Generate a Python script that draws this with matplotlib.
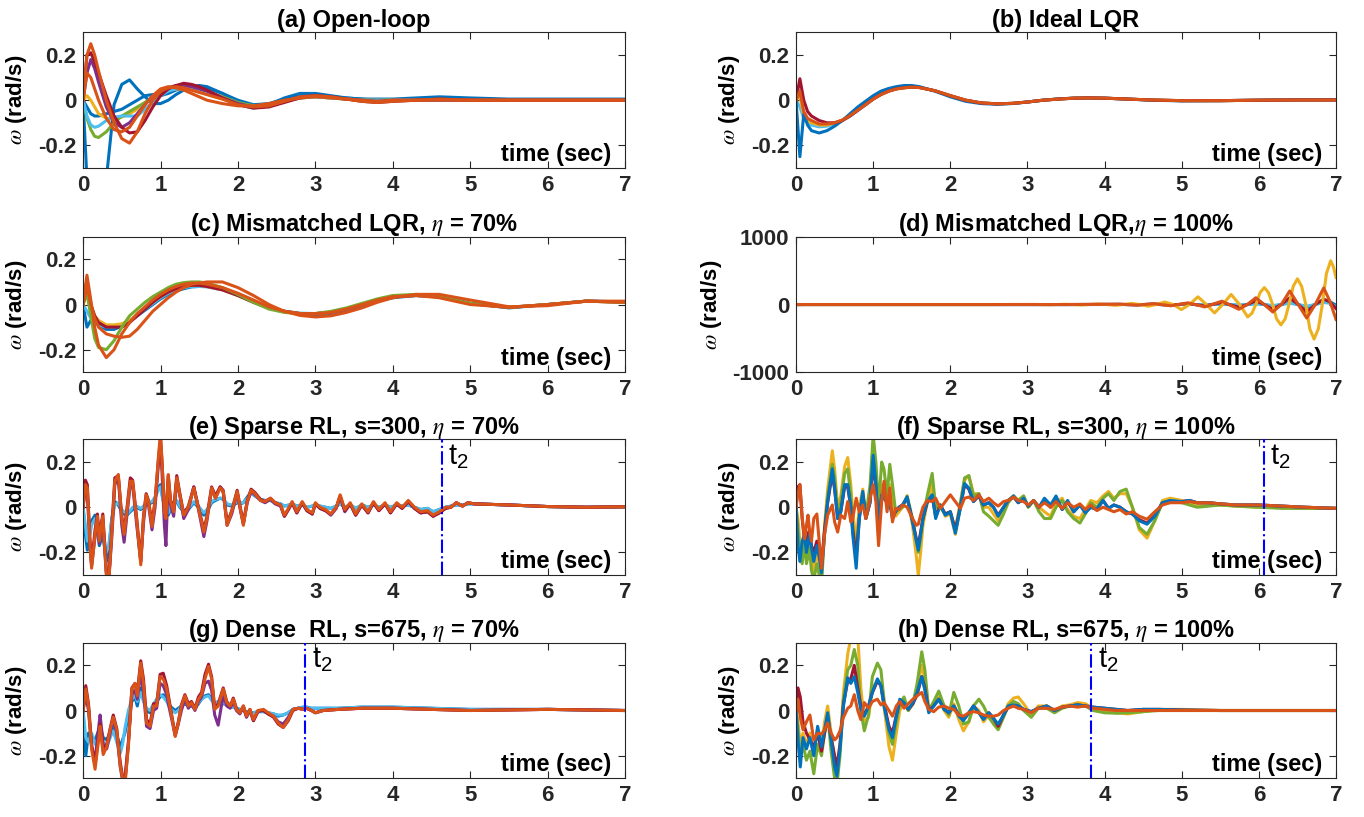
import numpy as np
import matplotlib.pyplot as plt

plt.rcParams['font.family'] = ['Liberation Sans', 'DejaVu Sans']
plt.rcParams['mathtext.fontset'] = 'stix'

# MATLAB default line colours
BLUE = '#0072BD'
ORANGE = '#D95319'
YELLOW = '#EDB120'
PURPLE = '#7E2F8E'
GREEN = '#77AC30'
LBLUE = '#4DBEEE'
DRED = '#A2142F'

# ---------------- data ----------------
# shared time samples for the smooth panels (a), (b), (c)
t_s = [0, 0.05, 0.1, 0.15, 0.2, 0.3, 0.4, 0.5, 0.6, 0.7,
       0.8, 0.9, 1.0, 1.1, 1.2, 1.3, 1.4, 1.5, 1.6, 1.8,
       2.0, 2.2, 2.4, 2.6, 2.8, 3.0, 3.2, 3.4, 3.6, 3.8,
       4.0, 4.3, 4.6, 5.0, 5.5, 6.0, 6.5, 7.0]

# (a) open loop
a_blue1 = [0, -0.35, -0.6, -0.7, -0.7, -0.35, -0.02, 0.07, 0.09, 0.05,
           0.015, -0.015, -0.015, 0.0, 0.025, 0.045, 0.06, 0.065, 0.06, 0.03,
           -0.01, -0.03, -0.02, 0.01, 0.03, 0.03, 0.02, 0.01, 0.005, 0.005,
           0.005, 0.01, 0.015, 0.01, 0.005, 0.005, 0.005, 0.005]
a_blue2 = [0, -0.03, -0.06, -0.07, -0.07, -0.06, -0.05, -0.04, -0.02, 0.0,
           0.02, 0.025, 0.02, 0.03, 0.045, 0.055, 0.06, 0.06, 0.055, 0.03,
           0.0, -0.02, -0.015, 0.005, 0.02, 0.02, 0.015, 0.01, 0.005, 0.0,
           0.0, 0.005, 0.01, 0.005, 0.0, 0.0, 0.0, 0.0]
a_orange1 = [0, 0.2, 0.25, 0.2, 0.13, 0.0, -0.1, -0.17, -0.19, -0.14,
             -0.06, 0.0, 0.04, 0.055, 0.06, 0.055, 0.045, 0.035, 0.025, 0.005,
             -0.02, -0.03, -0.025, -0.005, 0.015, 0.02, 0.015, 0.005, -0.005, -0.01,
             -0.005, 0.0, 0.005, 0.0, 0.0, 0.0, 0.0, 0.0]
a_orange2 = [0, 0.12, 0.1, 0.05, 0.0, -0.08, -0.13, -0.14, -0.12, -0.07,
             -0.02, 0.02, 0.05, 0.06, 0.055, 0.045, 0.03, 0.015, 0.0, -0.015,
             -0.025, -0.025, -0.015, 0.0, 0.01, 0.015, 0.01, 0.005, 0.0, -0.005,
             0.0, 0.0, 0.0, 0.0, 0.0, 0.0, 0.0, 0.0]
a_red = [0, 0.2, 0.21, 0.17, 0.12, 0.02, -0.07, -0.12, -0.145, -0.14,
         -0.09, -0.03, 0.02, 0.05, 0.065, 0.075, 0.07, 0.06, 0.045, 0.01,
         -0.02, -0.035, -0.03, -0.01, 0.01, 0.02, 0.015, 0.005, -0.005, -0.01,
         -0.005, 0.0, 0.005, 0.0, 0.0, 0.0, 0.0, 0.0]
a_purple = [0, 0.12, 0.18, 0.14, 0.08, -0.03, -0.1, -0.12, -0.1, -0.06,
            -0.02, 0.02, 0.04, 0.055, 0.065, 0.065, 0.06, 0.05, 0.04, 0.01,
            -0.015, -0.03, -0.025, -0.005, 0.015, 0.02, 0.015, 0.005, 0.0, -0.005,
            0.0, 0.0, 0.0, 0.0, 0.0, 0.0, 0.0, 0.0]
a_yellow = [0, 0.02, 0.0, -0.03, -0.06, -0.08, -0.085, -0.075, -0.06, -0.04,
            -0.01, 0.01, 0.03, 0.045, 0.05, 0.05, 0.045, 0.035, 0.025, 0.005,
            -0.015, -0.025, -0.02, -0.005, 0.01, 0.015, 0.01, 0.005, 0.0, 0.0,
            0.0, 0.0, 0.0, 0.0, 0.0, 0.0, 0.0, 0.0]
a_green = [0, -0.08, -0.13, -0.16, -0.165, -0.14, -0.1, -0.07, -0.05, -0.03,
           -0.01, 0.01, 0.03, 0.045, 0.055, 0.055, 0.055, 0.05, 0.04, 0.015,
           -0.01, -0.025, -0.02, -0.005, 0.01, 0.015, 0.01, 0.005, 0.0, 0.0,
           0.0, 0.0, 0.0, 0.0, 0.0, 0.0, 0.0, 0.0]
a_lblue = [0, -0.07, -0.11, -0.12, -0.115, -0.09, -0.075, -0.07, -0.07, -0.07,
           -0.04, -0.01, 0.02, 0.04, 0.05, 0.055, 0.055, 0.05, 0.04, 0.01,
           -0.02, -0.035, -0.025, -0.005, 0.01, 0.015, 0.01, 0.005, 0.0, 0.0,
           0.0, 0.0, 0.0, 0.0, 0.0, 0.0, 0.0, 0.0]

# (b) ideal LQR
b_blue = [0, -0.25, -0.06, -0.11, -0.135, -0.145, -0.135, -0.115, -0.09, -0.06,
          -0.03, -0.005, 0.02, 0.04, 0.052, 0.06, 0.065, 0.065, 0.06, 0.04,
          0.015, -0.005, -0.015, -0.018, -0.015, -0.008, 0.0, 0.006, 0.009, 0.01,
          0.009, 0.005, 0.0, -0.003, -0.002, 0.0, 0.002, 0.002]
b_red = [0, 0.095, 0.0, -0.05, -0.07, -0.09, -0.1, -0.1, -0.09, -0.07,
         -0.045, -0.02, 0.005, 0.025, 0.04, 0.05, 0.055, 0.058, 0.056, 0.042,
         0.02, 0.0, -0.012, -0.016, -0.014, -0.008, 0.0, 0.005, 0.009, 0.01,
         0.009, 0.005, 0.001, -0.002, -0.002, 0.0, 0.001, 0.001]
b_orange = [0, 0.04, -0.05, -0.08, -0.09, -0.105, -0.105, -0.1, -0.088, -0.068,
            -0.044, -0.02, 0.005, 0.025, 0.04, 0.05, 0.055, 0.058, 0.056, 0.042,
            0.02, 0.0, -0.012, -0.016, -0.014, -0.008, 0.0, 0.005, 0.009, 0.01,
            0.009, 0.005, 0.001, -0.002, -0.002, 0.0, 0.001, 0.001]
b_yellow = [0, 0.02, -0.07, -0.09, -0.1, -0.11, -0.11, -0.1, -0.088, -0.068,
            -0.044, -0.02, 0.005, 0.025, 0.04, 0.05, 0.055, 0.058, 0.056, 0.042,
            0.02, 0.0, -0.012, -0.016, -0.014, -0.008, 0.0, 0.005, 0.009, 0.01,
            0.009, 0.005, 0.001, -0.002, -0.002, 0.0, 0.001, 0.001]
b_lblue = [0, -0.03, -0.08, -0.1, -0.11, -0.118, -0.115, -0.104, -0.09, -0.07,
           -0.046, -0.02, 0.005, 0.027, 0.042, 0.052, 0.057, 0.06, 0.057, 0.042,
           0.02, 0.0, -0.012, -0.016, -0.014, -0.008, 0.0, 0.005, 0.009, 0.01,
           0.009, 0.005, 0.001, -0.002, -0.002, 0.0, 0.001, 0.001]

# (c) mismatched LQR, eta = 70%
c_orange1 = [0, 0.13, 0.02, -0.1, -0.18, -0.235, -0.2, -0.13, -0.08, -0.04,
             -0.01, 0.02, 0.045, 0.065, 0.08, 0.09, 0.095, 0.095, 0.09, 0.075,
             0.05, 0.02, -0.01, -0.03, -0.04, -0.04, -0.035, -0.02, 0.0, 0.02,
             0.035, 0.04, 0.03, 0.0, -0.012, 0.0, 0.015, 0.01]
c_orange2 = [0, 0.08, 0.0, -0.06, -0.1, -0.13, -0.14, -0.145, -0.14, -0.11,
             -0.07, -0.03, 0.0, 0.03, 0.055, 0.075, 0.09, 0.095, 0.1, 0.1,
             0.075, 0.04, 0.0, -0.03, -0.048, -0.055, -0.05, -0.035, -0.015, 0.01,
             0.03, 0.045, 0.045, 0.02, -0.01, -0.005, 0.015, 0.015]
c_green = [0, 0.05, -0.05, -0.15, -0.19, -0.2, -0.16, -0.1, -0.05, -0.02,
           0.01, 0.035, 0.055, 0.075, 0.09, 0.097, 0.1, 0.1, 0.095, 0.075,
           0.045, 0.01, -0.02, -0.035, -0.04, -0.04, -0.03, -0.015, 0.005, 0.025,
           0.04, 0.045, 0.035, 0.005, -0.012, 0.0, 0.015, 0.01]
c_red = [0, 0.11, 0.0, -0.05, -0.08, -0.1, -0.1, -0.1, -0.08, -0.05,
         -0.02, 0.01, 0.035, 0.055, 0.07, 0.08, 0.085, 0.085, 0.08, 0.065,
         0.04, 0.01, -0.015, -0.03, -0.04, -0.04, -0.035, -0.02, 0.0, 0.02,
         0.035, 0.04, 0.035, 0.005, -0.013, 0.0, 0.015, 0.01]
c_blue = [0, -0.1, -0.07, -0.08, -0.09, -0.11, -0.11, -0.095, -0.075, -0.05,
          -0.025, 0.0, 0.025, 0.045, 0.06, 0.07, 0.078, 0.08, 0.08, 0.07,
          0.045, 0.015, -0.015, -0.03, -0.04, -0.045, -0.04, -0.025, -0.005, 0.015,
          0.03, 0.04, 0.035, 0.005, -0.015, 0.0, 0.015, 0.012]
c_lblue = [0, -0.03, -0.06, -0.08, -0.09, -0.1, -0.1, -0.09, -0.07, -0.045,
           -0.02, 0.005, 0.03, 0.05, 0.065, 0.075, 0.08, 0.08, 0.078, 0.065,
           0.04, 0.01, -0.015, -0.03, -0.038, -0.04, -0.035, -0.02, 0.0, 0.02,
           0.035, 0.04, 0.035, 0.005, -0.013, 0.0, 0.015, 0.012]
c_yellow = [0, 0.06, 0.0, -0.05, -0.07, -0.09, -0.09, -0.085, -0.07, -0.045,
            -0.015, 0.01, 0.035, 0.055, 0.07, 0.08, 0.085, 0.085, 0.08, 0.065,
            0.04, 0.01, -0.015, -0.03, -0.04, -0.04, -0.035, -0.02, 0.0, 0.02,
            0.035, 0.04, 0.035, 0.005, -0.013, 0.0, 0.015, 0.01]

# (d) mismatched LQR, eta = 100% (unstable)
d_t_yellow = [0, 2.5, 3.06,
              3.275, 3.38, 3.49, 3.6, 3.705, 3.81, 3.92, 4.03, 4.135, 4.24,
              4.35, 4.46, 4.565, 4.67, 4.78, 4.89, 4.995, 5.1, 5.21, 5.32,
              5.425, 5.53, 5.64, 5.75, 5.855,
              5.91, 5.96, 6.016, 6.07, 6.124, 6.178, 6.23, 6.285, 6.34, 6.39,
              6.445, 6.5, 6.554, 6.608, 6.66, 6.715, 6.77, 6.822, 6.875, 6.93,
              6.965, 7.0]
d_yellow = [0, 0, 2,
            -3, 0, 4, 0, -6, 0, 8, 0, -12, 0,
            16, 0, -25, 0, 38, 0, -74, 0, 114, 0,
            -124, 0, 149, 0, -183,
            -128, 0, 177, 250, 177, 0, -212, -300, -212, 0,
            269, 380, 269, 0, -360, -510, -360, 0, 456, 645,
            560, 400]
d_t_other = [0, 3.5, 4.2, 4.42, 4.64, 4.86, 5.08, 5.3, 5.52, 5.74, 5.85,
             5.96, 6.07, 6.18, 6.29, 6.4, 6.51, 6.62, 6.73, 6.84, 6.92, 7.0]
d_orange = [0, 0, 5, -8, 12, -18, 25, -35, 50, -70, 0,
            100, 0, -110, 0, 200, 0, -200, 0, 245, 50, -220]
d_red = [0, 0, 3, -5, 8, -12, 16, -22, 30, -40, 0,
         55, 0, -70, 0, 100, 0, -110, 0, 80, 40, -60]
d_blue = [0, 0, 1, -2, 3, -4, 5, -7, 10, -14, 0,
          18, 0, -25, 0, 30, 0, -40, 0, 55, 40, -10]
d_lblue = [0, 0, 1, -1, 2, -3, 3, -5, 6, -8, 0,
           10, 0, -15, 0, 18, 0, -25, 0, 30, 20, -30]

# (e) sparse RL, s=300, eta = 70%
e_t = [0, 0.03, 0.055, 0.09, 0.11, 0.155, 0.185, 0.21, 0.255, 0.3,
       0.33, 0.37, 0.41, 0.455, 0.5, 0.53, 0.565, 0.61, 0.64, 0.69,
       0.745, 0.78, 0.815, 0.845, 0.89, 0.93, 0.975, 1.0, 1.02, 1.05,
       1.07, 1.1, 1.13, 1.17, 1.21, 1.25, 1.3, 1.36, 1.43, 1.49,
       1.56, 1.6, 1.66, 1.71, 1.77, 1.81, 1.86, 1.92, 1.99, 2.03,
       2.07, 2.12, 2.17, 2.22, 2.29, 2.35, 2.42, 2.48, 2.55, 2.6,
       2.66, 2.7, 2.76, 2.83, 2.89, 2.96, 3.0, 3.06, 3.13, 3.2,
       3.27, 3.32, 3.38, 3.45, 3.52, 3.6, 3.68, 3.75, 3.82, 3.9,
       3.97, 4.05, 4.12, 4.2, 4.28, 4.36, 4.45, 4.52, 4.6, 4.68,
       4.75, 4.82, 4.9, 4.97, 5.05, 5.5, 6.0, 6.5, 7.0]
e_orange = [0, 0.1, 0.085, -0.17, -0.27, -0.12, -0.04, -0.15, -0.04, -0.3,
            -0.34, -0.12, 0.115, 0.145, -0.05, -0.12, -0.02, 0.115, 0.115, -0.05,
            -0.255, -0.05, 0.055, 0.025, -0.085, 0.025, 0.23, 0.33, 0.2, -0.02,
            -0.05, 0.145, 0.025, -0.02, 0.13, 0.055, -0.035, 0.0, 0.085, -0.005,
            -0.11, -0.05, 0.085, 0.04, 0.085, 0.07, -0.08, -0.02, 0.07, -0.005,
            -0.08, 0.025, 0.075, 0.06, 0.03, 0.025, 0.04, 0.02, 0.01, -0.035,
            0.0, 0.025, -0.02, 0.025, -0.01, -0.025, 0.02, 0.0, -0.01, -0.03,
            0.0, 0.055, -0.01, 0.02, -0.03, 0.015, -0.02, 0.025, -0.01, 0.02,
            -0.02, 0.02, 0.0, 0.03, 0.0, -0.02, -0.015, -0.035, -0.02, 0.0,
            0.0, 0.02, 0.005, 0.02, 0.015, 0.01, 0.003, 0.0, 0.002]
e_red = [0, 0.12, 0.1, -0.15, -0.25, -0.1, -0.03, -0.13, -0.03, -0.28,
         -0.33, -0.1, 0.13, 0.14, -0.04, -0.11, -0.01, 0.13, 0.12, -0.04,
         -0.24, -0.04, 0.06, 0.03, -0.07, 0.03, 0.22, 0.3, 0.2, -0.01,
         -0.04, 0.14, 0.03, -0.01, 0.14, 0.06, -0.03, 0.005, 0.09, 0.0,
         -0.1, -0.04, 0.09, 0.05, 0.09, 0.075, -0.07, -0.015, 0.075, 0.0,
         -0.07, 0.03, 0.08, 0.065, 0.035, 0.025, 0.04, 0.02, 0.01, -0.04,
         -0.005, 0.02, -0.025, 0.02, -0.015, -0.03, 0.015, -0.005, -0.015, -0.03,
         0.0, 0.05, -0.015, 0.015, -0.035, 0.01, -0.025, 0.02, -0.015, 0.015,
         -0.025, 0.015, -0.005, 0.025, -0.005, -0.025, -0.02, -0.04, -0.025, -0.005,
         0.0, 0.02, 0.005, 0.02, 0.015, 0.01, 0.003, 0.0, 0.002]
e_purple = [0, 0.08, 0.06, -0.18, -0.26, -0.13, -0.05, -0.16, -0.06, -0.29,
            -0.33, -0.14, 0.1, 0.13, -0.08, -0.155, -0.04, 0.1, 0.1, -0.07,
            -0.24, -0.07, 0.04, 0.01, -0.1, 0.0, 0.2, 0.28, 0.15, -0.08,
            -0.17, 0.12, 0.01, -0.04, 0.12, 0.05, -0.05, -0.01, 0.09, -0.01,
            -0.13, -0.06, 0.08, 0.04, 0.09, 0.065, -0.08, -0.03, 0.065, -0.01,
            -0.075, 0.02, 0.07, 0.055, 0.03, 0.02, 0.035, 0.015, 0.005, -0.04,
            -0.005, 0.02, -0.025, 0.02, -0.015, -0.03, 0.015, -0.005, -0.015, -0.035,
            -0.005, 0.05, -0.02, 0.015, -0.035, 0.01, -0.025, 0.02, -0.015, 0.015,
            -0.025, 0.015, -0.005, 0.025, -0.005, -0.025, -0.02, -0.04, -0.025, -0.005,
            0.0, 0.02, 0.005, 0.02, 0.015, 0.01, 0.003, 0.0, 0.002]
e_blue = [0, -0.12, -0.19, -0.1, -0.06, -0.035, -0.1, -0.17, -0.12, -0.24,
          -0.2, -0.05, 0.025, 0.01, -0.02, -0.03, -0.035, -0.02, -0.01, 0.0,
          -0.01, 0.0, 0.01, 0.015, 0.02, 0.04, 0.09, 0.1, 0.06, 0.0,
          -0.03, -0.035, -0.01, 0.02, 0.025, 0.0, -0.02, -0.01, 0.02, 0.0,
          -0.035, -0.02, 0.02, 0.03, 0.04, 0.035, 0.01, 0.005, 0.02, 0.015,
          0.02, 0.045, 0.065, 0.05, 0.035, 0.03, 0.03, 0.02, 0.015, 0.005,
          0.01, 0.015, 0.005, 0.01, 0.0, 0.005, 0.01, 0.005, 0.0, -0.005,
          0.005, 0.015, 0.0, 0.01, -0.005, 0.01, 0.0, 0.01, 0.0, 0.01,
          0.0, 0.01, 0.005, 0.01, 0.0, -0.01, -0.005, -0.02, -0.01, 0.0,
          0.005, 0.01, 0.01, 0.015, 0.015, 0.01, 0.003, 0.0, 0.002]
e_lblue = [0, -0.08, -0.15, -0.12, -0.08, -0.05, -0.08, -0.14, -0.1, -0.2,
           -0.17, -0.06, 0.01, 0.02, -0.01, -0.02, -0.03, -0.015, 0.0, 0.005,
           -0.005, 0.005, 0.015, 0.02, 0.025, 0.045, 0.08, 0.09, 0.05, 0.01,
           -0.02, -0.025, 0.0, 0.025, 0.03, 0.005, -0.015, -0.005, 0.025, 0.005,
           -0.025, -0.01, 0.025, 0.035, 0.04, 0.04, 0.015, 0.01, 0.025, 0.02,
           0.02, 0.04, 0.06, 0.05, 0.035, 0.03, 0.03, 0.02, 0.015, 0.005,
           0.01, 0.015, 0.005, 0.01, 0.0, 0.005, 0.01, 0.005, 0.0, -0.005,
           0.005, 0.015, 0.0, 0.01, -0.005, 0.01, 0.0, 0.01, 0.0, 0.01,
           0.0, 0.01, 0.005, 0.01, 0.0, -0.01, -0.005, -0.02, -0.01, 0.0,
           0.005, 0.01, 0.01, 0.015, 0.015, 0.01, 0.003, 0.0, 0.002]

# (f) sparse RL, s=300, eta = 100%
f_t = [0, 0.025, 0.05, 0.08, 0.11, 0.135, 0.155, 0.175, 0.2, 0.23,
       0.27, 0.3, 0.33, 0.37, 0.41, 0.47, 0.5, 0.54, 0.58, 0.63,
       0.67, 0.71, 0.735, 0.78, 0.82, 0.865, 0.905, 0.96, 1.0, 1.035,
       1.07, 1.11, 1.14, 1.18, 1.215, 1.25, 1.29, 1.335, 1.38, 1.44,
       1.51, 1.56, 1.585, 1.615, 1.645, 1.7, 1.765, 1.81, 1.87, 1.935,
       2.0, 2.065, 2.13, 2.185, 2.24, 2.3, 2.37, 2.43, 2.5, 2.56,
       2.62, 2.69, 2.75, 2.82, 2.88, 2.95, 3.01, 3.08, 3.15, 3.22,
       3.3, 3.37, 3.45, 3.52, 3.6, 3.68, 3.75, 3.82, 3.9, 3.98,
       4.05, 4.12, 4.2, 4.28, 4.36, 4.45, 4.55, 4.65, 4.75, 4.85,
       5.0, 5.1, 5.2, 5.35, 5.5, 5.7, 6.0, 6.3, 6.6, 7.0]
f_orange = [0, 0.06, 0.1, -0.05, -0.14, -0.08, -0.035, -0.1, -0.15, -0.05,
            -0.03, -0.15, -0.27, -0.12, -0.035, 0.01, -0.065, -0.11, -0.035, -0.05,
            0.025, -0.065, -0.05, 0.04, -0.02, 0.01, -0.05, 0.04, 0.1, 0.025,
            -0.17, 0.025, 0.115, -0.02, 0.085, -0.065, -0.005, -0.01, 0.01, 0.0,
            -0.05, -0.08, -0.075, -0.035, 0.0, 0.03, 0.025, 0.04, -0.005, 0.025,
            0.055, 0.025, -0.005, 0.04, 0.045, 0.03, 0.055, 0.025, 0.04, 0.02,
            0.005, 0.025, 0.03, 0.045, 0.03, 0.025, 0.01, 0.03, 0.0, 0.02,
            0.0, 0.025, -0.005, 0.02, 0.0, 0.015, -0.01, 0.01, -0.015, 0.0,
            -0.01, -0.02, -0.01, -0.03, -0.02, -0.04, -0.053, -0.02, 0.01, 0.02,
            0.02, 0.025, 0.02, 0.02, 0.015, 0.01, 0.01, 0.005, 0.0, -0.005]
f_blue = [0, -0.17, -0.24, -0.15, -0.12, -0.2, -0.16, -0.12, -0.18, -0.24,
          -0.17, -0.22, -0.29, -0.12, 0.025, 0.17, 0.085, -0.05, -0.02, 0.1,
          0.1, 0.0, -0.12, -0.27, -0.05, 0.07, -0.05, 0.025, 0.23, 0.1,
          -0.095, 0.055, 0.04, 0.025, 0.025, -0.05, -0.02, 0.0, 0.01, 0.045,
          -0.065, -0.15, -0.19, -0.12, -0.05, 0.025, 0.055, -0.05, 0.01, -0.035,
          -0.02, -0.115, -0.005, 0.105, 0.085, 0.025, 0.055, 0.01, 0.02, 0.0,
          -0.04, 0.0, 0.03, 0.05, 0.02, 0.04, 0.005, 0.03, 0.0, 0.04,
          0.01, 0.05, -0.01, 0.03, -0.02, 0.01, -0.025, 0.0, -0.01, 0.03,
          -0.005, 0.01, 0.0, -0.02, -0.03, -0.06, -0.075, -0.04, 0.02, 0.03,
          0.025, 0.03, 0.02, 0.02, 0.015, 0.01, 0.01, 0.005, 0.0, -0.005]
f_green = [0, -0.1, -0.2, -0.25, -0.15, -0.25, -0.22, -0.18, -0.28, -0.32,
           -0.25, -0.3, -0.35, -0.1, 0.05, 0.19, 0.13, -0.03, 0.02, 0.15,
           0.17, 0.05, -0.08, -0.2, -0.03, 0.05, -0.04, 0.1, 0.32, 0.2,
           0.0, 0.2, 0.17, 0.05, 0.19, 0.1, -0.02, -0.01, 0.0, 0.05,
           -0.05, -0.15, -0.2, -0.14, -0.05, 0.05, 0.15, 0.0, 0.0, -0.03,
           -0.02, -0.1, 0.02, 0.13, 0.14, 0.05, 0.06, -0.02, -0.04, -0.06,
           -0.08, -0.03, 0.02, 0.05, 0.03, 0.05, 0.0, 0.03, -0.02, -0.05,
           -0.05, 0.0, 0.03, -0.02, -0.05, -0.07, -0.03, 0.02, 0.0, 0.04,
           0.06, 0.03, 0.07, 0.08, 0.0, -0.09, -0.12, -0.06, 0.02, 0.03,
           0.02, 0.01, 0.0, 0.005, 0.01, 0.005, 0.0, -0.005, -0.005, -0.005]
f_yellow = [0, -0.05, -0.15, -0.2, -0.13, -0.2, -0.17, -0.15, -0.22, -0.28,
            -0.2, -0.25, -0.3, -0.08, 0.08, 0.25, 0.17, 0.0, 0.05, 0.18,
            0.22, 0.1, -0.02, -0.15, 0.0, 0.08, -0.03, 0.05, 0.25, 0.12,
            -0.05, 0.1, 0.08, 0.0, 0.1, 0.05, -0.04, -0.02, 0.0, 0.05,
            -0.08, -0.22, -0.3, -0.2, -0.08, 0.02, 0.1, -0.03, 0.01, -0.04,
            -0.03, -0.12, 0.0, 0.12, 0.14, 0.06, 0.06, 0.0, 0.0, -0.03,
            -0.06, -0.01, 0.03, 0.05, 0.03, 0.05, 0.0, 0.03, 0.0, -0.02,
            -0.04, 0.02, 0.04, -0.01, -0.04, -0.05, -0.01, 0.03, 0.02, 0.05,
            0.07, 0.04, 0.06, 0.06, 0.0, -0.1, -0.137, -0.06, 0.03, 0.04,
            0.03, 0.02, 0.01, 0.01, 0.01, 0.005, 0.0, 0.0, -0.005, -0.005]
f_red = [0, 0.09, 0.1, -0.05, -0.15, -0.17, -0.12, -0.1, -0.17, -0.2,
         -0.15, -0.18, -0.25, -0.1, 0.02, 0.15, 0.08, -0.05, -0.02, 0.09,
         0.09, 0.0, -0.1, -0.22, -0.05, 0.06, -0.05, 0.02, 0.2, 0.09,
         -0.09, 0.05, 0.04, 0.02, 0.02, -0.045, -0.02, 0.0, 0.01, 0.04,
         -0.06, -0.14, -0.17, -0.11, -0.05, 0.02, 0.05, -0.04, 0.01, -0.03,
         -0.02, -0.1, 0.0, 0.1, 0.08, 0.025, 0.05, 0.01, 0.02, 0.0,
         -0.035, 0.0, 0.03, 0.045, 0.02, 0.035, 0.005, 0.03, 0.0, 0.03,
         0.0, 0.04, -0.01, 0.025, -0.02, 0.01, -0.02, 0.0, -0.01, 0.03,
         -0.005, 0.01, 0.0, -0.02, -0.03, -0.055, -0.07, -0.035, 0.02, 0.025,
         0.025, 0.03, 0.02, 0.02, 0.015, 0.01, 0.01, 0.005, 0.0, -0.005]

# (g) dense RL, s=675, eta = 70%
g_t = [0, 0.035, 0.07, 0.11, 0.155, 0.2, 0.22, 0.26, 0.305, 0.35,
       0.39, 0.435, 0.48, 0.51, 0.54, 0.585, 0.63, 0.67, 0.7, 0.745,
       0.78, 0.82, 0.865, 0.91, 0.95, 0.995, 1.035, 1.08, 1.12, 1.19,
       1.23, 1.27, 1.315, 1.36, 1.4, 1.445, 1.49, 1.53, 1.575, 1.62,
       1.66, 1.7, 1.745, 1.81, 1.855, 1.9, 1.94, 1.98, 2.025, 2.07,
       2.11, 2.155, 2.2, 2.26, 2.33, 2.39, 2.46, 2.52, 2.585, 2.65,
       2.71, 2.78, 2.84, 2.885, 2.95, 3.0, 3.1, 3.3, 3.6, 4.0,
       4.5, 5.0, 6.0, 7.0]
g_orange = [0, 0.095, 0.02, -0.17, -0.26, -0.13, -0.07, -0.195, -0.16, -0.085,
            -0.03, -0.085, -0.245, -0.3, -0.33, -0.16, 0.095, 0.12, 0.065, 0.21,
            0.12, -0.055, -0.07, 0.02, 0.02, 0.15, 0.14, 0.095, 0.02, -0.115,
            -0.055, 0.02, 0.065, 0.02, 0.035, 0.005, 0.05, 0.07, 0.14, 0.195,
            0.14, 0.005, 0.02, 0.095, 0.035, 0.02, 0.05, 0.005, -0.01, 0.02,
            -0.025, 0.005, -0.04, 0.0, 0.005, -0.01, -0.025, -0.055, -0.075, -0.04,
            0.005, 0.01, 0.005, 0.01, 0.0, -0.01, 0.0, 0.005, 0.01, 0.01,
            0.005, 0.0, 0.005, 0.0]
g_red = [0, 0.11, 0.03, -0.15, -0.24, -0.12, -0.06, -0.18, -0.15, -0.08,
         -0.02, -0.08, -0.23, -0.29, -0.32, -0.15, 0.1, 0.12, 0.08, 0.22,
         0.14, -0.04, -0.06, 0.03, 0.03, 0.16, 0.165, 0.11, 0.03, -0.11,
         -0.05, 0.025, 0.07, 0.03, 0.04, 0.01, 0.06, 0.08, 0.16, 0.205,
         0.15, 0.01, 0.03, 0.1, 0.04, 0.02, 0.055, 0.01, -0.01, 0.02,
         -0.025, 0.005, -0.045, 0.0, 0.0, -0.015, -0.03, -0.06, -0.075, -0.045,
         0.0, 0.01, 0.005, 0.01, 0.0, -0.01, 0.0, 0.005, 0.01, 0.01,
         0.005, 0.0, 0.005, 0.0]
g_purple = [0, 0.07, 0.0, -0.16, -0.22, -0.08, -0.02, -0.15, -0.17, -0.1,
            -0.03, -0.1, -0.25, -0.31, -0.3, -0.14, 0.07, 0.09, 0.05, 0.17,
            0.08, -0.07, -0.08, 0.0, 0.01, 0.12, 0.11, 0.07, 0.0, -0.11,
            -0.06, 0.0, 0.05, 0.01, 0.03, 0.0, 0.04, 0.06, 0.12, 0.13,
            0.09, -0.02, -0.065, 0.07, 0.02, 0.01, 0.04, 0.0, -0.015, 0.015,
            -0.03, 0.0, -0.045, -0.005, 0.0, -0.015, -0.025, -0.05, -0.06, -0.03,
            0.005, 0.01, 0.005, 0.01, 0.0, -0.01, 0.0, 0.005, 0.01, 0.01,
            0.005, 0.0, 0.005, 0.0]
g_blue = [0, -0.2, -0.1, -0.12, -0.13, -0.09, -0.07, -0.12, -0.13, -0.1,
          -0.07, -0.11, -0.16, -0.13, -0.1, -0.02, 0.04, 0.06, 0.02, 0.1,
          0.05, 0.0, -0.01, 0.02, 0.04, 0.06, 0.07, 0.05, 0.02, 0.0,
          0.01, 0.02, 0.03, 0.02, 0.02, 0.01, 0.03, 0.05, 0.065, 0.07,
          0.05, 0.03, 0.04, 0.03, 0.025, 0.02, 0.015, 0.01, 0.005, 0.0,
          -0.005, -0.01, -0.01, -0.005, -0.005, -0.01, -0.015, -0.025, -0.02, -0.01,
          0.005, 0.01, 0.015, 0.015, 0.01, 0.01, 0.01, 0.01, 0.015, 0.015,
          0.01, 0.005, 0.005, 0.0]
g_lblue = [0, -0.12, -0.14, -0.1, -0.15, -0.12, -0.09, -0.14, -0.16, -0.12,
           -0.09, -0.14, -0.19, -0.15, -0.08, 0.0, 0.05, 0.07, 0.04, 0.08,
           0.04, 0.01, 0.0, 0.03, 0.05, 0.07, 0.06, 0.04, 0.01, -0.01,
           0.0, 0.02, 0.035, 0.025, 0.025, 0.015, 0.035, 0.05, 0.06, 0.065,
           0.045, 0.03, 0.04, 0.035, 0.025, 0.02, 0.015, 0.01, 0.005, 0.0,
           -0.005, -0.01, -0.01, -0.005, -0.005, -0.01, -0.015, -0.02, -0.02, -0.01,
           0.005, 0.01, 0.015, 0.015, 0.01, 0.01, 0.01, 0.01, 0.015, 0.015,
           0.01, 0.005, 0.005, 0.0]

# (h) dense RL, s=675, eta = 100%
h_t = [0, 0.025, 0.055, 0.09, 0.135, 0.18, 0.23, 0.28, 0.33, 0.37,
       0.41, 0.455, 0.5, 0.53, 0.57, 0.615, 0.67, 0.71, 0.755, 0.8,
       0.84, 0.885, 0.94, 0.99, 1.055, 1.1, 1.14, 1.205, 1.25, 1.3,
       1.345, 1.4, 1.455, 1.515, 1.57, 1.63, 1.67, 1.72, 1.785, 1.85,
       1.92, 1.98, 2.045, 2.11, 2.17, 2.24, 2.3, 2.37, 2.43, 2.5,
       2.56, 2.62, 2.69, 2.75, 2.82, 2.88, 2.95, 3.05, 3.14, 3.25,
       3.35, 3.45, 3.55, 3.65, 3.75, 3.85, 4.0, 4.15, 4.3, 4.5,
       4.7, 5.0, 5.5, 6.0, 7.0]
h_orange = [0, 0.05, -0.03, -0.085, -0.05, -0.02, -0.13, -0.1, -0.105, -0.085,
            -0.055, -0.1, -0.13, -0.12, -0.09, -0.03, 0.01, 0.02, 0.07, 0.0,
            -0.04, 0.035, 0.01, 0.04, 0.05, 0.025, 0.035, 0.0, -0.025, 0.02,
            0.04, 0.01, 0.03, 0.05, 0.065, 0.08, 0.04, 0.005, -0.005, 0.015,
            0.02, 0.01, 0.005, -0.02, -0.025, -0.01, -0.005, -0.01, -0.02, -0.025,
            -0.025, -0.02, 0.0, 0.01, 0.02, 0.01, 0.005, -0.01, 0.01, 0.01,
            0.005, 0.015, 0.02, 0.015, 0.02, 0.01, 0.005, 0.0, 0.0, 0.0,
            0.0, 0.0, 0.0, 0.0, 0.0]
h_blue = [0, -0.13, -0.25, -0.12, -0.17, -0.12, -0.2, -0.07, -0.16, -0.085,
          -0.01, -0.13, -0.25, -0.29, -0.17, 0.02, 0.145, 0.12, 0.15, 0.08,
          0.005, -0.025, 0.02, 0.08, 0.14, 0.11, 0.02, -0.085, -0.12, -0.025,
          0.05, 0.035, 0.005, 0.035, 0.08, 0.15, 0.09, -0.01, 0.02, 0.05,
          0.005, -0.01, 0.02, -0.025, -0.045, -0.01, 0.02, -0.01, -0.04, -0.01,
          -0.035, -0.06, -0.02, 0.02, 0.025, 0.02, 0.005, -0.005, 0.01, 0.02,
          0.0, 0.015, 0.02, 0.025, 0.02, 0.015, 0.01, 0.005, 0.0, 0.005,
          0.005, 0.002, 0.0, 0.0, 0.0]
h_green = [0, -0.08, -0.2, -0.15, -0.22, -0.18, -0.28, -0.15, -0.2, -0.1,
           -0.02, -0.18, -0.3, -0.33, -0.2, 0.05, 0.18, 0.2, 0.27, 0.2,
           0.0, -0.09, -0.02, 0.15, 0.21, 0.18, 0.05, -0.1, -0.15, -0.05,
           0.03, 0.06, 0.0, 0.03, 0.12, 0.26, 0.18, 0.0, 0.04, 0.086,
           0.02, -0.02, 0.08, 0.02, -0.06, -0.05, 0.02, 0.05, 0.02, -0.03,
           -0.06, -0.085, -0.03, 0.02, 0.04, 0.03, 0.0, -0.03, 0.01, 0.01,
           -0.01, 0.01, 0.02, 0.025, 0.02, 0.0, -0.01, -0.012, -0.01, -0.005,
           0.0, 0.0, 0.0, 0.0, 0.0]
h_yellow = [0, -0.05, -0.15, -0.1, -0.15, -0.1, -0.2, -0.08, -0.15, -0.05,
            0.02, -0.1, -0.22, -0.26, -0.15, 0.08, 0.25, 0.32, 0.3, 0.33,
            0.1, -0.05, -0.03, 0.1, 0.13, 0.12, 0.02, -0.16, -0.22, -0.1,
            0.0, 0.04, 0.0, 0.03, 0.1, 0.2, 0.14, 0.0, 0.03, 0.06,
            0.0, -0.03, 0.03, -0.04, -0.09, -0.05, 0.02, 0.0, -0.05, -0.02,
            -0.05, -0.08, -0.02, 0.03, 0.055, 0.06, 0.03, -0.02, 0.02, 0.02,
            0.0, 0.02, 0.025, 0.035, 0.03, 0.01, 0.0, -0.01, -0.015, -0.005,
            0.005, 0.005, 0.0, 0.0, 0.0]
h_red = [0, 0.1, 0.06, -0.05, -0.1, -0.13, -0.16, -0.1, -0.18, -0.1,
         -0.03, -0.12, -0.2, -0.25, -0.15, 0.03, 0.13, 0.14, 0.2, 0.1,
         0.02, -0.02, 0.02, 0.08, 0.13, 0.11, 0.03, -0.07, -0.1, -0.02,
         0.04, 0.03, 0.005, 0.03, 0.07, 0.15, 0.1, 0.0, 0.02, 0.05,
         0.005, -0.01, 0.02, -0.02, -0.04, -0.01, 0.02, -0.01, -0.035, -0.01,
         -0.035, -0.07, -0.02, 0.015, 0.02, 0.02, 0.005, -0.005, 0.01, 0.02,
         0.0, 0.015, 0.02, 0.025, 0.02, 0.015, 0.01, 0.005, 0.0, 0.005,
         0.005, 0.002, 0.0, 0.0, 0.0]

# switching instants t2 of the RL controllers
t2_e = 4.63
t2_f = 6.06
t2_g = 2.87
t2_h = 3.83

# ---------------- figure ----------------
fig = plt.figure(figsize=(13.64, 8.17), dpi=100)
lefts = [0.0609, 0.5836]
widths = [0.3974, 0.3959]
bottoms = [0.7944, 0.5443, 0.2962, 0.0474]
height = 0.1659
LW = 2.2


def make_ax(row, col, title, lim=0.3, yticks=(-0.2, 0, 0.2),
            ylabels=('-0.2', '0', '0.2')):
    ax = fig.add_axes([lefts[col], bottoms[row], widths[col], height])
    ax.set_xlim(0, 7)
    ax.set_ylim(-lim, lim)
    ax.set_xticks(range(8))
    ax.set_yticks(yticks)
    ax.set_yticklabels(ylabels)
    ax.tick_params(direction='in', top=True, right=True, length=5, width=0.8,
                   labelsize=16, colors='#262626', pad=5)
    for lab in ax.get_xticklabels() + ax.get_yticklabels():
        lab.set_fontweight('bold')
    for s in ax.spines.values():
        s.set_color('#262626')
        s.set_linewidth(0.8)
    ax.set_title(title, fontsize=17, fontweight='bold', pad=4)
    ax.set_ylabel(r'$\omega$ (rad/s)', fontsize=16, fontweight='bold',
                  labelpad=6)
    ax.text(0.975, 0.015, 'time (sec)', transform=ax.transAxes, ha='right',
            va='bottom', fontsize=17, fontweight='bold', zorder=5)
    return ax


def mark_t2(ax, t2):
    ax.axvline(t2, color='#0000FF', ls='-.', lw=1.5, zorder=4)
    ax.text(t2 + 0.08, 0.29, r'$\mathregular{t_2}$', fontsize=21,
            va='top', ha='left')


# (a)
ax = make_ax(0, 0, '(a) Open-loop')
for y, c in [(a_blue1, BLUE), (a_blue2, BLUE), (a_yellow, YELLOW), (a_green, GREEN),
             (a_lblue, LBLUE), (a_purple, PURPLE), (a_red, DRED),
             (a_orange2, ORANGE), (a_orange1, ORANGE)]:
    ax.plot(t_s, y, color=c, lw=LW)

# (b)
ax = make_ax(0, 1, '(b) Ideal LQR')
for y, c in [(b_lblue, LBLUE), (b_yellow, YELLOW), (b_blue, BLUE),
             (b_red, DRED), (b_orange, ORANGE)]:
    ax.plot(t_s, y, color=c, lw=LW)

# (c)
ax = make_ax(1, 0, r'(c) Mismatched LQR, $\eta$ = 70%')
for y, c in [(c_blue, BLUE), (c_lblue, LBLUE), (c_yellow, YELLOW), (c_red, DRED),
             (c_green, GREEN), (c_orange2, ORANGE), (c_orange1, ORANGE)]:
    ax.plot(t_s, y, color=c, lw=LW)

# (d)
ax = make_ax(1, 1, r'(d) Mismatched LQR,$\eta$ = 100%', lim=1000,
             yticks=(-1000, 0, 1000), ylabels=('-1000', '0', '1000'))
ax.plot(d_t_other, d_blue, color=BLUE, lw=LW)
ax.plot(d_t_other, d_lblue, color=LBLUE, lw=LW)
ax.plot(d_t_other, d_red, color=DRED, lw=LW)
ax.plot(d_t_yellow, d_yellow, color=YELLOW, lw=LW)
ax.plot(d_t_other, d_orange, color=ORANGE, lw=LW)

# (e)
ax = make_ax(2, 0, r'(e) Sparse RL, s=300, $\eta$ = 70%')
for y, c in [(e_blue, BLUE), (e_lblue, LBLUE), (e_purple, PURPLE),
             (e_red, DRED), (e_orange, ORANGE)]:
    ax.plot(e_t, y, color=c, lw=LW)
mark_t2(ax, t2_e)

# (f)
ax = make_ax(2, 1, r'(f) Sparse RL, s=300, $\eta$ = 100%')
for y, c in [(f_yellow, YELLOW), (f_green, GREEN), (f_red, DRED),
             (f_blue, BLUE), (f_orange, ORANGE)]:
    ax.plot(f_t, y, color=c, lw=LW)
mark_t2(ax, t2_f)

# (g)
ax = make_ax(3, 0, r'(g) Dense  RL, s=675, $\eta$ = 70%')
for y, c in [(g_blue, BLUE), (g_lblue, LBLUE), (g_purple, PURPLE),
             (g_red, DRED), (g_orange, ORANGE)]:
    ax.plot(g_t, y, color=c, lw=LW)
mark_t2(ax, t2_g)

# (h)
ax = make_ax(3, 1, r'(h) Dense RL, s=675, $\eta$ = 100%')
for y, c in [(h_yellow, YELLOW), (h_green, GREEN), (h_red, DRED),
             (h_blue, BLUE), (h_orange, ORANGE)]:
    ax.plot(h_t, y, color=c, lw=LW)
mark_t2(ax, t2_h)

fig.savefig('out.png', dpi=100)
